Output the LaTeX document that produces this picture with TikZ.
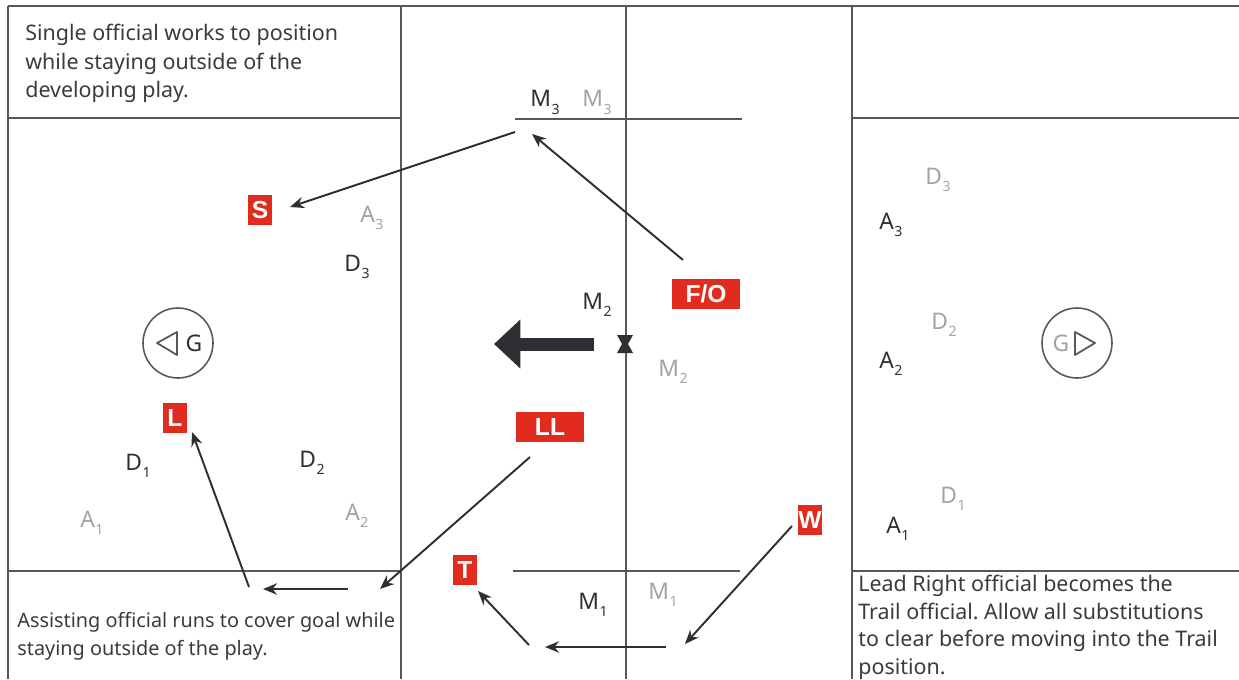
\documentclass[tikz,border=0pt]{standalone}
\usepackage{fontspec}
\setmainfont{Noto Sans}
\newfontfamily\boxfont{Liberation Sans}
\usetikzlibrary{arrows.meta,positioning}

\definecolor{refred}{HTML}{E12B1E}
\definecolor{ink}{HTML}{2E2F33}
\definecolor{lightink}{HTML}{A2A2A4}
\definecolor{notegray}{HTML}{3A3B3E}
\definecolor{linegray}{HTML}{55575B}

% player label with a small lowered number
\newcommand{\plsub}[2]{#1\hspace{0.3pt}\raisebox{-4.5pt}{\fontsize{8}{8}\selectfont#2}}

\begin{document}
\frenchspacing
\begin{tikzpicture}[x=0.02cm,y=-0.02cm,
  field/.style={draw=linegray,line width=1.4pt},
  run/.style={draw=ink,line width=1.1pt,-{Stealth[length=8pt,width=6.5pt]}},
  ref/.style={fill=refred,text=white,font=\boxfont\bfseries\fontsize{14}{14}\selectfont,
    minimum width=0.48cm,minimum height=0.6cm,inner sep=0pt},
  wide/.style={minimum width=1.37cm},
  pl/.style={anchor=base west,inner sep=0pt,text=ink,font=\fontsize{13}{13}\selectfont},
  gpl/.style={pl,text=lightink},
  note/.style={anchor=north west,inner sep=0pt,align=left,text=notegray,
    font=\fontsize{12.2}{16.1}\selectfont},
  goal/.style={circle,draw=linegray,line width=0.9pt,minimum size=1.4cm,inner sep=0pt}]
\useasboundingbox (0,0) rectangle (1239,679);

% field lines
\draw[field] (8,6) -- (1239,6);
\draw[field] (8,6) -- (8,679);
\draw[field] (401,6) -- (401,679);
\draw[field] (626,6) -- (626,679);
\draw[field] (852,6) -- (852,679);
\draw[field] (8,118) -- (401,118);
\draw[field] (8,571) -- (401,571);
\draw[field] (852,118) -- (1239,118);
\draw[field] (852,571) -- (1239,571);
% wing lines
\draw[field] (515,119) -- (742,119);
\draw[field] (513,571) -- (740,571);

% notes
\node[note] (notesingle) at (25,24) {Single official works to position\\while staying outside of the\\developing play.};
\node[note,font=\fontsize{11.3}{15.9}\selectfont] (noteassist) at (17,612) {Assisting official runs to cover goal while\\staying outside of the play.};
\node[note,font=\fontsize{12.2}{15.7}\selectfont] (notelead) at (858,575) {Lead Right official becomes the\\Trail official. Allow all substitutions\\to clear before moving into the Trail\\position.};

% goals
\node[goal] (goalleft) at (178,343) {};
\draw[linegray,line width=1pt,line join=round] ([shift={(-21,0)}]goalleft.center) -- ++(20,-11) -- ++(0,23) -- cycle;
\node[pl,anchor=center] (gleft) at ([shift={(16,0)}]goalleft.center) {G};
\node[goal] (goalright) at (1077,343) {};
\draw[linegray,line width=1pt,line join=round] ([shift={(18,0)}]goalright.center) -- ++(-20,-11) -- ++(0,23) -- cycle;
\node[gpl,anchor=center] (gright) at ([shift={(-16,0)}]goalright.center) {G};

% players, left half
\node[gpl] (a3l) at (360,222) {\plsub{A}{3}};
\node[pl] (d3l) at (344,271) {\plsub{D}{3}};
\node[pl] (d1l) at (125,470) {\plsub{D}{1}};
\node[pl] (d2l) at (299,467) {\plsub{D}{2}};
\node[gpl] (a1l) at (80,527) {\plsub{A}{1}};
\node[gpl] (a2l) at (345,520) {\plsub{A}{2}};
% midfield
\node[pl] (m3a) at (530,107) {\plsub{M}{3}};
\node[gpl] (m3b) at (582,107) {\plsub{M}{3}};
\node[pl] (m2a) at (582,309) {\plsub{M}{2}};
\node[gpl] (m2b) at (658,376) {\plsub{M}{2}};
\node[pl] (m1a) at (578,609) {\plsub{M}{1}};
\node[gpl] (m1b) at (648,599) {\plsub{M}{1}};
% players, right half
\node[gpl] (d3r) at (925,184) {\plsub{D}{3}};
\node[pl] (a3r) at (879,229) {\plsub{A}{3}};
\node[gpl] (d2r) at (931,329) {\plsub{D}{2}};
\node[pl] (a2r) at (879,368) {\plsub{A}{2}};
\node[gpl] (d1r) at (940,503) {\plsub{D}{1}};
\node[pl] (a1r) at (886,533) {\plsub{A}{1}};

% face-off mark and direction of play
\coordinate (faceoff) at (625,344);
\fill[ink] (faceoff) ++(-8,-9) -- ++(16,0) -- ++(-5,9) -- ++(5,9) -- ++(-16,0) -- ++(5,-9) -- cycle;
\draw[ink,line width=7.4pt,-{Triangle[length=15pt,width=27pt]}] ([shift={(-31,0)}]faceoff) -- ([shift={(-131,0)}]faceoff);

% officials
\node[ref] (s) at (260,210) {S};
\node[ref] (l) at (175,418) {L};
\node[ref,wide] (ll) at (550,427) {LL};
\node[ref,wide] (fo) at (706,294) {F/O};
\node[ref] (t) at (465,570) {T};
\node[ref] (w) at (810,520) {W};

% turning points
\coordinate (m3go) at (532,134);
\coordinate (m3back) at (515,132);
\coordinate (gl1) at (380,589);
\coordinate (gl2) at (348,589);
\coordinate (gl3) at (263,589);
\coordinate (gl4) at (249,587);
\coordinate (sub1) at (685,644);
\coordinate (sub2) at (666,647);
\coordinate (sub3) at (545,647);
\coordinate (sub4) at (529,645);

% officials' runs
\draw[run] ([shift={(-23,-34)}]fo.center) -- (m3go);
\draw[run] (m3back) -- ([shift={(30,-3)}]s.center);
\draw[run] ([shift={(-20,30)}]ll.center) -- (gl1);
\draw[run] (gl2) -- (gl3);
\draw[run] (gl4) -- ([shift={(17,14)}]l.center);
\draw[run] ([shift={(-18,6)}]w.center) -- (sub1);
\draw[run] (sub2) -- (sub3);
\draw[run] (sub4) -- ([shift={(13,21)}]t.center);
\end{tikzpicture}
\end{document}
